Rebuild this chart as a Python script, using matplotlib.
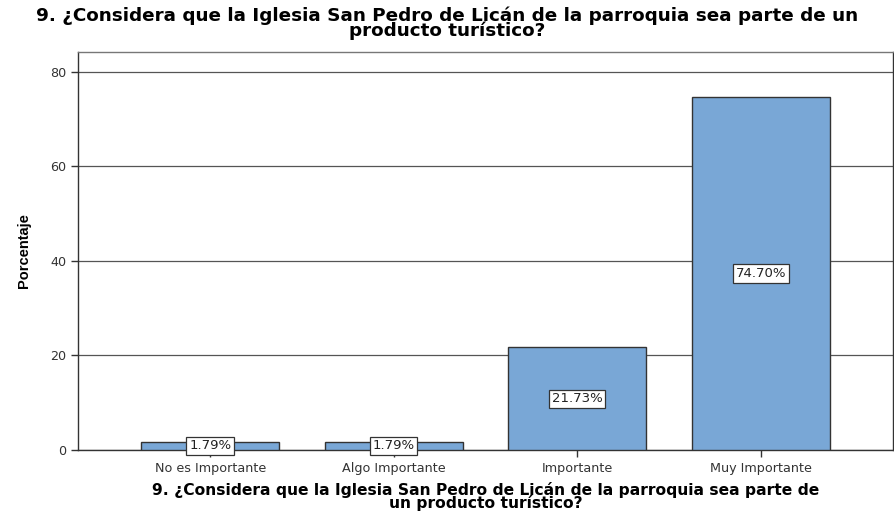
import matplotlib.pyplot as plt

categorias = ['No es Importante', 'Algo Importante', 'Importante', 'Muy Importante']
porcentajes = [1.79, 1.79, 21.73, 74.70]
etiquetas = ['1.79%', '1.79%', '21.73%', '74.70%']
titulo = '9. ¿Considera que la Iglesia San Pedro de Licán de la parroquia sea parte de un\nproducto turístico?'
titulo_x = '9. ¿Considera que la Iglesia San Pedro de Licán de la parroquia sea parte de\nun producto turístico?'

plt.rcParams['font.family'] = ['DejaVu Sans']

fig = plt.figure(figsize=(8.94, 5.15), dpi=100)
ax = fig.add_axes([78 / 894, 1 - 450 / 515, 815 / 894, 398 / 515])

x = range(len(categorias))
ax.set_axisbelow(True)
ax.yaxis.grid(True, color='#555555', linewidth=0.9)
ax.bar(x, porcentajes, width=0.75, color='#79a7d6', edgecolor='#333333', linewidth=1.0, zorder=3)

for i, (v, t) in enumerate(zip(porcentajes, etiquetas)):
    ax.text(i, v / 2, t, ha='center', va='center', fontsize=9.5, color='#222222', zorder=4,
            bbox=dict(boxstyle='square,pad=0.2', facecolor='white', edgecolor='#333333', linewidth=0.9))

ax.set_xlim(-0.72, 3.72)
ax.set_ylim(0, 84.2)
ax.set_yticks([0, 20, 40, 60, 80])
ax.set_xticks(list(x))
ax.set_xticklabels(categorias)
ax.tick_params(axis='both', labelsize=9.2, labelcolor='#333333', color='#333333', length=5, width=1)
for s in ax.spines.values():
    s.set_color('#333333')
    s.set_linewidth(1)
ax.spines['top'].set_color('#777777')

ax.set_ylabel('Porcentaje', fontsize=10.5, fontweight='bold', labelpad=14, family=['Liberation Sans'])
ax.set_xlabel(titulo_x, fontsize=11.2, fontweight='bold', labelpad=5, linespacing=0.82)
fig.suptitle(titulo, fontsize=13.2, fontweight='bold', y=0.988, linespacing=0.8)

fig.savefig('out.png', dpi=100)
